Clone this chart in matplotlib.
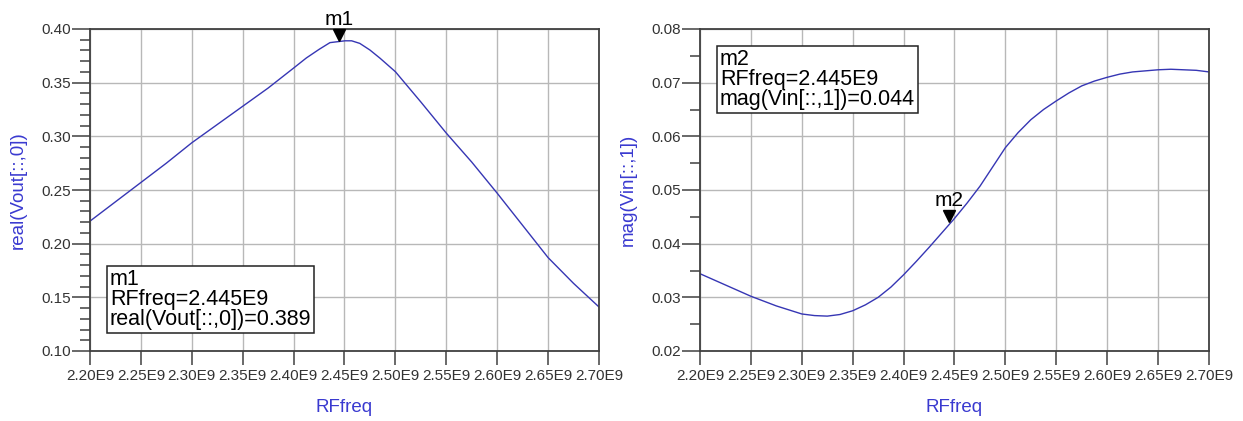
"""Recreate ADS-style RF sweep plots: real(Vout) and mag(Vin) vs RFfreq."""
import matplotlib

matplotlib.use("Agg")
import matplotlib.pyplot as plt  # noqa: E402
from matplotlib.transforms import ScaledTranslation  # noqa: E402
from matplotlib.ticker import FixedLocator, FuncFormatter, MultipleLocator  # noqa: E402

plt.rcParams["font.family"] = ["Liberation Sans", "DejaVu Sans"]

# sweep points in GHz and the values
vout_ghz = [2.200, 2.225, 2.250, 2.275, 2.300, 2.325, 2.350, 2.375, 2.400, 2.4125,
            2.425, 2.4357, 2.4505, 2.457, 2.465, 2.475, 2.485, 2.500, 2.525, 2.550,
            2.575, 2.600, 2.625, 2.650, 2.675, 2.700]
vout_real = [0.221, 0.239, 0.257, 0.275, 0.294, 0.311, 0.328, 0.345, 0.3636, 0.373,
             0.381, 0.3873, 0.389, 0.389, 0.3866, 0.3804, 0.3727, 0.3602, 0.332, 0.303,
             0.276, 0.247, 0.217, 0.187, 0.163, 0.141]

vin_ghz = [2.200, 2.225, 2.250, 2.275, 2.300, 2.3125, 2.325, 2.3375, 2.350, 2.3625,
           2.375, 2.3875, 2.400, 2.4125, 2.425, 2.4375, 2.450, 2.4625, 2.475, 2.4875,
           2.500, 2.5125, 2.525, 2.5375, 2.550, 2.5625, 2.575, 2.5875, 2.600, 2.6125,
           2.625, 2.6375, 2.650, 2.6625, 2.675, 2.6875, 2.700]
vin_mag = [0.0344, 0.0323, 0.0302, 0.0284, 0.0269, 0.0266, 0.0265, 0.0268, 0.0275, 0.0286,
           0.0300, 0.0319, 0.0342, 0.0367, 0.0393, 0.0420, 0.0447, 0.0476, 0.0507, 0.0543,
           0.0579, 0.0607, 0.0631, 0.0650, 0.0666, 0.0681, 0.0694, 0.0703, 0.0710, 0.0716,
           0.0720, 0.0722, 0.0724, 0.0725, 0.0724, 0.0723, 0.0720]

x_ticks_ghz = [2.20, 2.25, 2.30, 2.35, 2.40, 2.45, 2.50, 2.55, 2.60, 2.65, 2.70]
marker_ghz = 2.445
m1_value = 0.389
m2_value = 0.044

CURVE = "#3636b4"
LABEL = "#3a3ad0"
GRID = "#b8b8b8"
SPINE = "#404040"
TICKTXT = "#333333"


def _style(ax, ylim, ymajor, yminor, ylabel):
    ax.set_xlim(x_ticks_ghz[0] * 1e9, x_ticks_ghz[-1] * 1e9)
    ax.set_ylim(*ylim)
    ax.xaxis.set_major_locator(FixedLocator([t * 1e9 for t in x_ticks_ghz]))
    ax.xaxis.set_major_formatter(FuncFormatter(lambda v, _: f"{v / 1e9:.2f}E9"))
    ax.yaxis.set_major_locator(MultipleLocator(ymajor))
    ax.yaxis.set_minor_locator(MultipleLocator(yminor))
    ax.yaxis.set_major_formatter(FuncFormatter(lambda v, _: f"{v:.2f}"))
    ax.grid(True, which="major", color=GRID, lw=1.0)
    ax.set_axisbelow(True)
    for sp in ax.spines.values():
        sp.set_color(SPINE)
        sp.set_linewidth(1.3)
    ax.tick_params(axis="x", direction="out", length=10, width=1.1, color=SPINE,
                   labelsize=11, pad=3, labelcolor=TICKTXT)
    ax.tick_params(axis="y", which="major", direction="out", length=13, width=1.1,
                   color=SPINE, labelsize=11, pad=1, labelcolor=TICKTXT)
    ax.tick_params(axis="y", which="minor", direction="out", length=7, width=1.1, color=SPINE)
    ax.set_xlabel("RFfreq", color=LABEL, fontsize=13.5)
    ax.set_ylabel(ylabel, color=LABEL, fontsize=13.5)
    ax.xaxis.set_label_coords(0.5, -0.15)
    ax.yaxis.set_label_coords(-0.124, 0.5)


def _marker(ax, x, y, name):
    lift = ScaledTranslation(0, 4.5 / 72, ax.figure.dpi_scale_trans)
    ax.plot([x], [y], marker="v", ms=8, color="black", ls="none",
            transform=ax.transData + lift, clip_on=False, zorder=5)
    ax.annotate(name, xy=(x, y), xytext=(0, 11.5), textcoords="offset points",
                ha="center", va="baseline", fontsize=15, annotation_clip=False)


def _readout(ax, x, y, lines):
    ax.text(x, y, "\n".join(lines), transform=ax.transAxes, ha="left", va="top",
            fontsize=15.5, linespacing=0.95, zorder=6,
            bbox=dict(boxstyle="square,pad=0.14", facecolor="white", edgecolor="#222222", lw=1.1))


fig = plt.figure(figsize=(12.43, 4.21), dpi=100)
ax1 = fig.add_axes([90 / 1243, 1 - 351 / 421, 509 / 1243, 322 / 421])
ax2 = fig.add_axes([700 / 1243, 1 - 351 / 421, 509 / 1243, 322 / 421])

ax1.plot([f * 1e9 for f in vout_ghz], vout_real, color=CURVE, lw=1.0)
_style(ax1, (0.10, 0.40), 0.05, 0.01, "real(Vout[::,0])")
_marker(ax1, marker_ghz * 1e9, m1_value, "m1")
_readout(ax1, 0.039, 0.256, ["m1", f"RFfreq={marker_ghz:.3f}E9", f"real(Vout[::,0])={m1_value:.3f}"])

ax2.plot([f * 1e9 for f in vin_ghz], vin_mag, color=CURVE, lw=1.0)
_style(ax2, (0.02, 0.08), 0.01, 0.005, "mag(Vin[::,1])")
_marker(ax2, marker_ghz * 1e9, m2_value, "m2")
_readout(ax2, 0.039, 0.938, ["m2", f"RFfreq={marker_ghz:.3f}E9", f"mag(Vin[::,1])={m2_value:.3f}"])

fig.savefig("out.png", dpi=100)
